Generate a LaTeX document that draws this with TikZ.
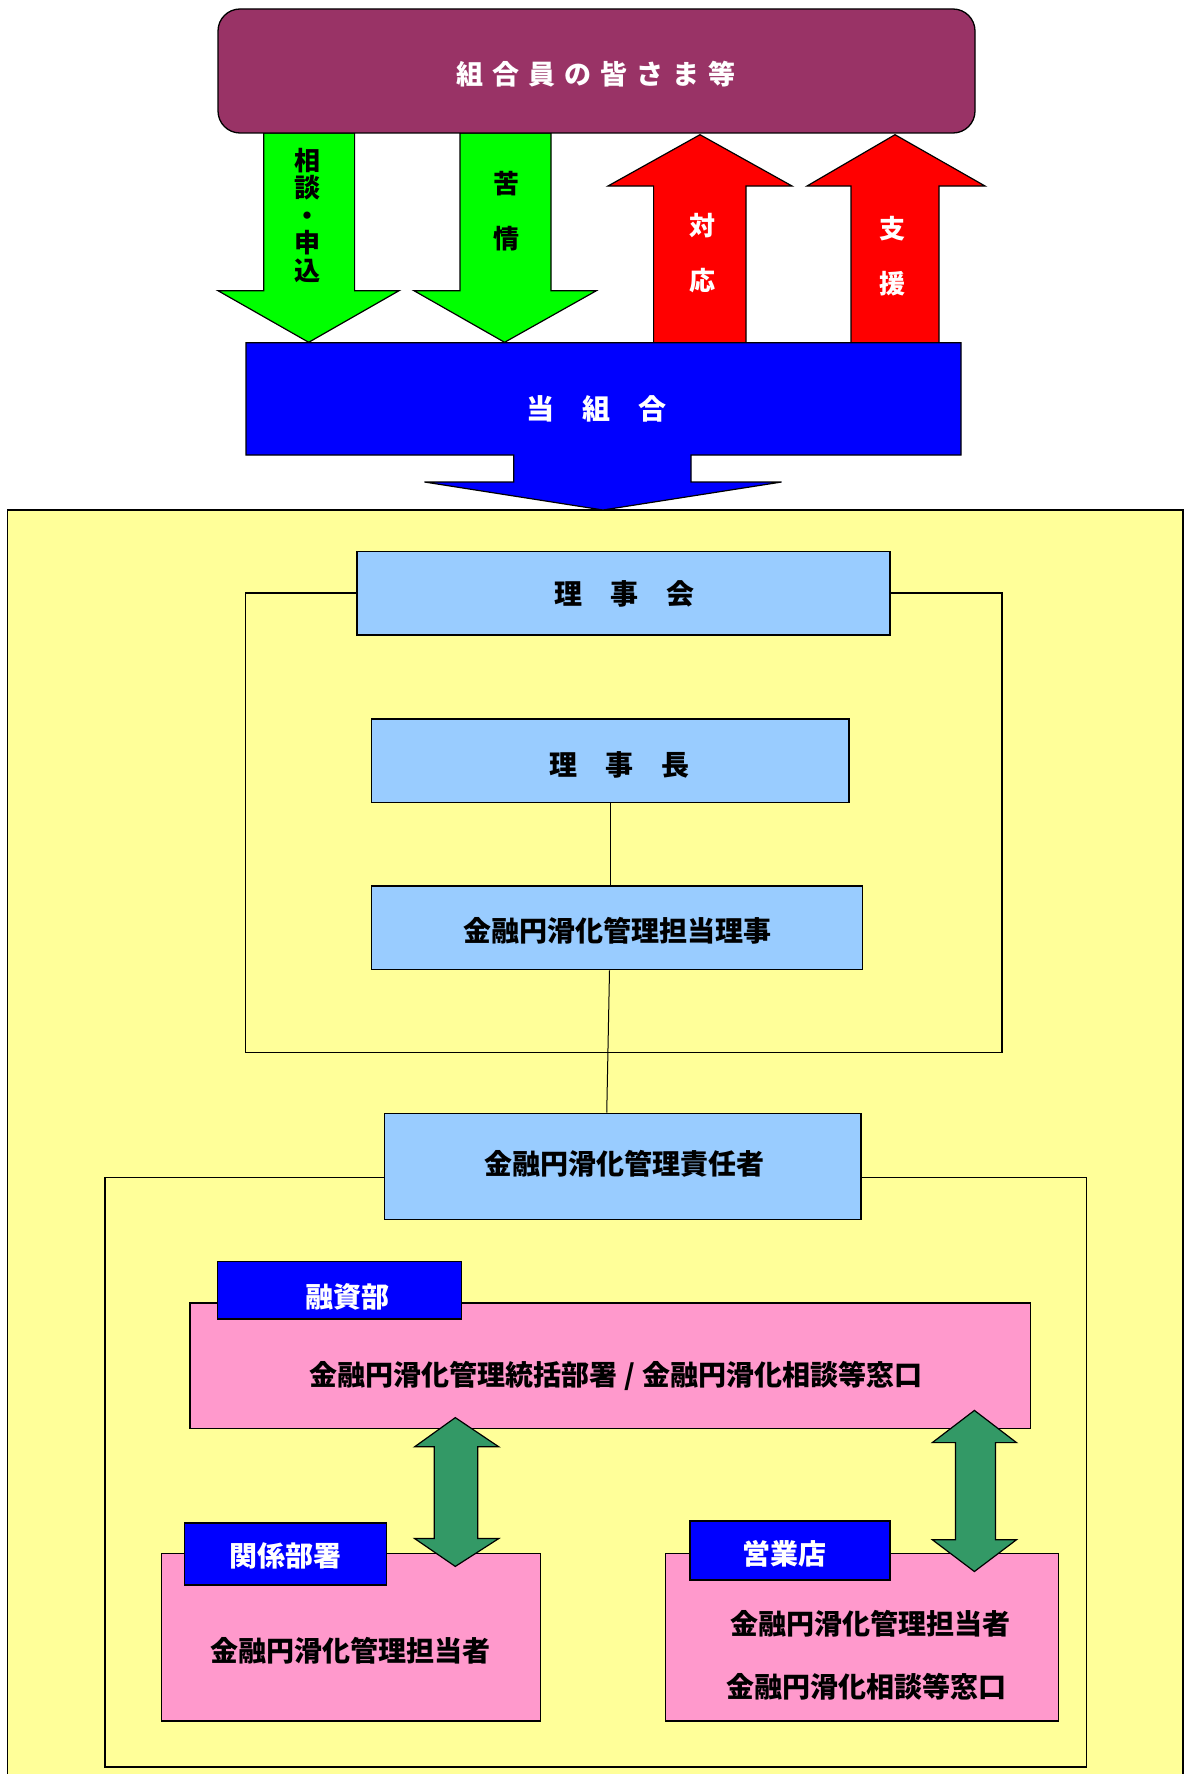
\documentclass[tikz,border=0pt]{standalone}
\usepackage{fontspec}
\newfontfamily\jp{Noto Sans CJK JP}
\definecolor{plum}{HTML}{993366}
\definecolor{lgreen}{HTML}{00FF00}
\definecolor{bred}{HTML}{FF0000}
\definecolor{bblue}{HTML}{0000FF}
\definecolor{lyellow}{HTML}{FFFF99}
\definecolor{skyb}{HTML}{99CCFF}
\definecolor{lpink}{HTML}{FF99CC}
\definecolor{sgreen}{HTML}{339966}
\begin{document}
\begin{tikzpicture}[x=1pt,y=-1pt,
  every node/.style={font=\jp\bfseries\fontsize{28pt}{32pt}\selectfont, inner sep=0pt},
  bx/.style={draw, line width=1.3pt, fill=skyb},
  pk/.style={draw, line width=1.3pt, fill=lpink},
  tab/.style={draw, line width=1.3pt, fill=bblue},
  wtxt/.style={text=white},
  arr/.style={draw, line width=1.2pt, line join=miter},
  frame/.style={draw, line width=1.2pt},
  vtxt/.style={align=center, font=\jp\bfseries\fontsize{26pt}{27.5pt}\selectfont},
  vtxtw/.style={align=center, font=\jp\bfseries\fontsize{26pt}{55pt}\selectfont}
]
\useasboundingbox (0,0) rectangle (1184,1774);
\fill[white] (0,0) rectangle (1184,1774);

% big yellow area
\draw[fill=lyellow, line width=1.2pt] (7.5,510) rectangle (1183,1790);

% green down arrows
\path[arr, fill=lgreen] (263.8,133) -- (354.6,133) -- (354.6,290.7) -- (399,290.7) -- (308.7,342.3) -- (218,290.7) -- (263.8,290.7) -- cycle;
\path[arr, fill=lgreen] (460,133) -- (551,133) -- (551,290.7) -- (596.4,290.7) -- (504.6,342.3) -- (414,290.7) -- (460,290.7) -- cycle;
% red up arrows
\path[arr, fill=bred] (653.6,342.7) -- (653.6,186) -- (608,186) -- (700,134.7) -- (792,186) -- (746,186) -- (746,342.7) -- cycle;
\path[arr, fill=bred] (851,342.7) -- (851,186) -- (807,186) -- (895,134.7) -- (985,186) -- (939,186) -- (939,342.7) -- cycle;

% members box
\node[draw, line width=1.3pt, fill=plum, rounded corners=22pt, minimum width=757pt, minimum height=124pt] (members) at (596.5,71) {};
\node[wtxt, font=\jp\bfseries\fontsize{27pt}{30pt}\selectfont] (membersT) at (596,74) {組\hspace{9pt}合\hspace{9pt}員\hspace{9pt}の\hspace{9pt}皆\hspace{9pt}さ\hspace{9pt}ま\hspace{9pt}等};

% arrow labels
\node[vtxt] (soudan) at (307,215) {相\\談\\・\\申\\込};
\node[vtxtw] (kujo) at (506,211.5) {苦\\情};
\node[vtxtw, text=white] (taiou) at (702,253.5) {対\\応};
\node[vtxtw, text=white] (shien) at (892,256.5) {支\\援};

% own union box with arrow
\path[arr, fill=bblue] (246,342.7) -- (961,342.7) -- (961,455) -- (691,455) -- (691,482) -- (781.6,482) -- (603,510) -- (424.5,482) -- (513.8,482) -- (513.8,455) -- (246,455) -- cycle;
\node[wtxt] (union) at (596,409) {当　組　合};

% frames
\draw[frame] (245.5,593) rectangle (1002,1052.6);
\draw[frame] (105,1177.8) rectangle (1086.7,1767);

% board boxes
\node[bx, minimum width=533pt, minimum height=83.3pt] (rijikai) at (623.5,593.4) {};
\node (rijikaiT) at (624,594) {理　事　会};
\node[bx, minimum width=477.4pt, minimum height=83.3pt] (rijicho) at (610.3,760.7) {};
\node (rijichoT) at (619,765) {理　事　長};
\node[bx, minimum width=490.9pt, minimum height=83.6pt] (tanto) at (617,927.8) {};
\node (tantoT) at (617,931) {金融円滑化管理担当理事};
\node[bx, minimum width=476.5pt, minimum height=106.2pt] (sekinin) at (622.75,1166.4) {};
\node (sekininT) at (624.5,1163.6) {金融円滑化管理責任者};

\draw[line width=1pt] (rijicho.south) -- (rijicho.south |- tanto.north);
\draw[line width=1pt] ([xshift=-7.5pt]tanto.south) -- ([xshift=-16pt]sekinin.north);

% departments
\node[pk, minimum width=840.5pt, minimum height=125.8pt] (pink1) at (610.25,1365.9) {};
\node (pink1T) at (616,1376) {金融円滑化管理統括部署\hspace{7pt}/\hspace{7pt}金融円滑化相談等窓口};
\node[tab, minimum width=244.1pt, minimum height=57.4pt] (tab1) at (339.55,1290.3) {};
\node[wtxt] (tab1T) at (347,1297) {融資部};

\node[pk, minimum width=378.8pt, minimum height=167.5pt] (pink2) at (350.8,1637.25) {};
\node (pink2T) at (350.5,1651) {金融円滑化管理担当者};
\node[tab, minimum width=202.1pt, minimum height=62pt] (tab2) at (285.55,1554) {};
\node[wtxt] (tab2T) at (285,1555.6) {関係部署};

\node[pk, minimum width=392.8pt, minimum height=167.5pt] (pink3) at (862.2,1637.25) {};
\node (pink3Ta) at (870,1624) {金融円滑化管理担当者};
\node (pink3Tb) at (866,1686.7) {金融円滑化相談等窓口};
\node[tab, minimum width=200pt, minimum height=59pt] (tab3) at (790,1550.5) {};
\node[wtxt] (tab3T) at (784.5,1553.5) {営業店};

% double arrows
\path[arr, fill=sgreen] (455.3,1417.6) -- (498.8,1446.8) -- (477.8,1446.8) -- (477.8,1538.5) -- (498.8,1538.5) -- (455.3,1566.4) -- (414.6,1538.5) -- (434.3,1538.5) -- (434.3,1446.8) -- (414.6,1446.8) -- cycle;
\path[arr, fill=sgreen] (974.4,1410.4) -- (1016.5,1442.6) -- (995.5,1442.6) -- (995.5,1539.7) -- (1016.5,1539.7) -- (974.4,1571.5) -- (932.3,1539.7) -- (955.5,1539.7) -- (955.5,1442.6) -- (932.3,1442.6) -- cycle;
\end{tikzpicture}
\end{document}
